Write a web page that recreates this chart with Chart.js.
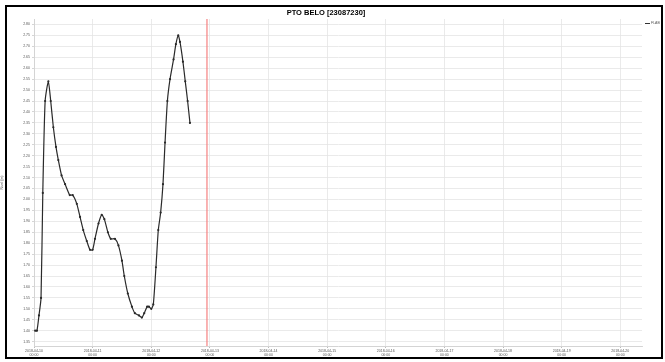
<!DOCTYPE html>
<html>
<head>
<meta charset="utf-8">
<script src="https://cdn.jsdelivr.net/npm/chart.js@4"></script>
<style>
  html, body { margin: 0; padding: 0; background: #fff; }
  #wrap { position: relative; width: 665px; height: 362px; overflow: hidden; }
  #frame { position: absolute; left: 5px; top: 5px; width: 654px; height: 350px; border: 2px solid #000; pointer-events: none; }
  #title { position: absolute; left: 226px; width: 200px; top: 8px; text-align: center; font: bold 7.5px 'Liberation Sans', Arial, sans-serif; color: #000; }
  #legend { position: absolute; left: 645px; top: 21px; font: 3.5px 'Liberation Sans', Arial, sans-serif; color: #555; white-space: nowrap; }
  #legend span { display: inline-block; width: 5px; height: 0; border-top: 1px solid #333; vertical-align: middle; margin-right: 1px; }
</style>
</head>
<body>
<div id="wrap">
  <canvas id="chart" width="665" height="362"></canvas>
  <div id="title">PTO BELO [23087230]</div>
  <div id="legend"><span></span>FLAB</div>
  <div id="frame"></div>
</div>
<script>
// days since 2018-04-10 00:00
const times = [0.02, 0.05, 0.085, 0.12, 0.15, 0.19, 0.245, 0.285, 0.33, 0.375, 0.415, 0.47, 0.53, 0.61, 0.66,
  0.73, 0.785, 0.84, 0.90, 0.955, 1.0, 1.04, 1.10, 1.155, 1.20, 1.26, 1.31, 1.38, 1.44, 1.50, 1.54, 1.60,
  1.67, 1.72, 1.79, 1.84, 1.88, 1.93, 1.96, 2.0, 2.035, 2.08, 2.12, 2.16, 2.20, 2.235, 2.275, 2.32, 2.38,
  2.42, 2.46, 2.49, 2.54, 2.58, 2.62, 2.66]
const levels = [1.40, 1.40, 1.47, 1.55, 2.03, 2.45, 2.54, 2.45, 2.33, 2.24, 2.18, 2.11, 2.07, 2.02, 2.02,
  1.98, 1.92, 1.86, 1.81, 1.77, 1.77, 1.82, 1.89, 1.93, 1.91, 1.85, 1.82, 1.82, 1.79, 1.72, 1.65, 1.57,
  1.51, 1.48, 1.47, 1.46, 1.48, 1.51, 1.51, 1.50, 1.52, 1.69, 1.86, 1.94, 2.07, 2.26, 2.45, 2.55, 2.64,
  2.71, 2.75, 2.72, 2.63, 2.54, 2.45, 2.35]
const dayLabels = ['2018-04-10', '2018-04-11', '2018-04-12', '2018-04-13', '2018-04-14', '2018-04-15',
  '2018-04-16', '2018-04-17', '2018-04-18', '2018-04-19', '2018-04-20']
const yStep = 0.05
const yFirst = 1.35
const yLast = 2.80
const nowMark = 2.95

const font = { family: "'Liberation Sans', Arial, sans-serif", size: 3.5 }

const nowLine = {
  id: 'nowLine',
  afterDatasetsDraw(chart) {
    const { ctx, chartArea, scales } = chart
    const x = scales.x.getPixelForValue(nowMark)
    ctx.save()
    ctx.strokeStyle = 'rgba(245,120,120,0.7)'
    ctx.lineWidth = 1.6
    ctx.beginPath()
    ctx.moveTo(x, chartArea.top)
    ctx.lineTo(x, chartArea.bottom)
    ctx.stroke()
    ctx.restore()
  }
}

new Chart(document.getElementById('chart'), {
  type: 'line',
  data: {
    datasets: [{
      label: 'FLAB',
      data: times.map((t, i) => ({ x: t, y: levels[i] })),
      borderColor: '#2a2a2a',
      backgroundColor: '#2a2a2a',
      borderWidth: 1.2,
      pointRadius: 0.5,
      pointHoverRadius: 0,
      tension: 0.2
    }]
  },
  options: {
    responsive: false,
    animation: false,
    layout: { padding: { left: 0, right: 23, top: 19, bottom: 4 } },
    plugins: { legend: { display: false }, title: { display: false }, tooltip: { enabled: false } },
    scales: {
      x: {
        type: 'linear',
        min: 0,
        max: 10.37,
        afterBuildTicks: s => { s.ticks = dayLabels.map((d, i) => ({ value: i })) },
        afterFit: s => { s.height = 12 },
        border: { color: '#d4d4d4', width: 1 },
        grid: { color: '#e4e4e4', lineWidth: 0.8, borderDash: [1, 2], tickLength: 2, tickColor: '#aaa', tickBorderDash: [] },
        ticks: {
          font, color: '#555', padding: 1, maxRotation: 0, autoSkip: false,
          callback: v => [dayLabels[v], '00:00']
        }
      },
      y: {
        min: 1.33,
        max: 2.825,
        afterBuildTicks: s => {
          const t = []
          for (let v = yFirst; v <= yLast + 1e-9; v += yStep) t.push({ value: +v.toFixed(2) })
          s.ticks = t
        },
        afterFit: s => { s.width = 34 },
        border: { color: '#d4d4d4', width: 1 },
        grid: { color: '#e4e4e4', lineWidth: 0.8, borderDash: [1, 2], tickLength: 2, tickColor: '#ccc', tickBorderDash: [] },
        ticks: { font, color: '#555', padding: 2, autoSkip: false, callback: v => v.toFixed(2) },
        title: { display: true, text: 'Nivel (m)', font, color: '#555', padding: { top: 0, bottom: 7 } }
      }
    }
  },
  plugins: [nowLine]
})
</script>
</body>
</html>
